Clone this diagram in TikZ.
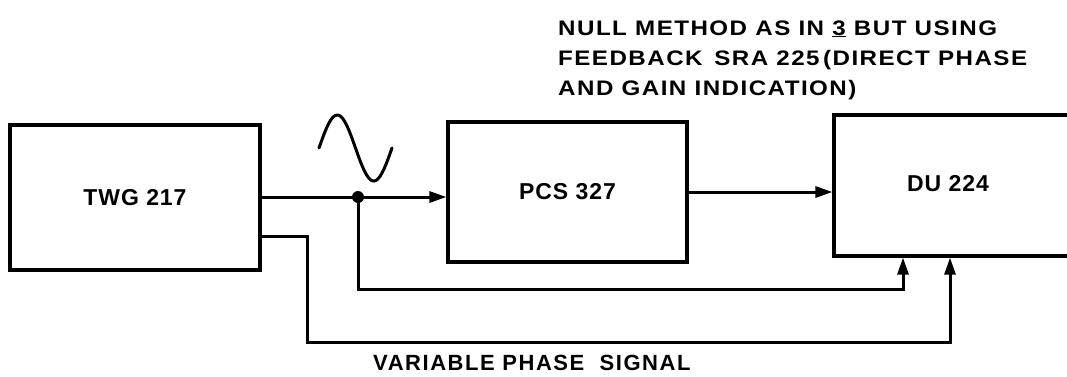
\documentclass[tikz,border=0pt]{standalone}
\usepackage{fontspec}
\setmainfont{Liberation Sans}[LetterSpace=4]
\usepackage{tikz}
\usetikzlibrary{arrows.meta, positioning}

\begin{document}
\begin{tikzpicture}[x=1pt, y=-1pt,
  box/.style={draw, line width=3.2pt, minimum width=250pt, minimum height=145pt, font=\fontsize{23}{28}\selectfont\bfseries},
  sig/.style={line width=3pt, -{Triangle[length=17pt, width=11pt]}},
  wire/.style={line width=3pt}]
 \useasboundingbox (0,0) rectangle (1067,376);
 \node[box] (twg) at (135,197.5){TWG 217};
 \node[box, minimum width=239pt, minimum height=140pt] (pcs) at (567.5,192){PCS 327};
 \node[box, minimum width=250pt, minimum height=141pt] (du) at (959,185.5){};
 \node[font=\fontsize{23}{28}\selectfont\bfseries] at ([xshift=-11pt, yshift=2pt]du.center){DU 224};
 \coordinate (tap) at (358,197);
 \coordinate (out2) at ([yshift=-38.5pt]twg.east);
 \coordinate (in1) at (du.south -| 903,0);
 \coordinate (in2) at (du.south -| 950,0);
 \draw[sig] (tap -| twg.east) -- (tap -| pcs.west);
 \fill (tap) circle (6);
 \draw[sig] (pcs.east) -- (pcs.east -| du.west);
 \draw[sig] (tap) -- (tap |- 0,289) -| (in1);
 \draw[sig] (out2) -| (307,342) -| (in2);
 \draw[wire, line cap=round] plot[domain=0:360, samples=50] ({319+\x/360*73}, {148-33*sin(\x)});
 \node[anchor=base west, align=left, inner sep=0pt, font=\fontsize{21}{30}\selectfont\bfseries\addfontfeature{FakeStretch=1.15, LetterSpace=7}] (note) at (558,95)
   {NULL METHOD AS IN \underline{3} BUT USING\\FEEDBACK\ \,SRA 225\,(DIRECT PHASE\\AND GAIN INDICATION)};
 \node[anchor=base west, inner sep=0pt, font=\fontsize{22}{26}\selectfont\bfseries\addfontfeature{LetterSpace=7}] (varlbl) at (373,370)
   {VARIABLE PHASE\ \ SIGNAL};
\end{tikzpicture}
\end{document}
